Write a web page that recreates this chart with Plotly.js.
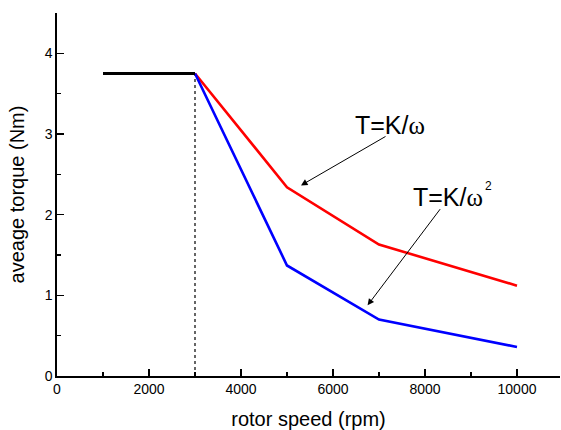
<!DOCTYPE html>
<html>
<head>
<meta charset="utf-8">
<script src="https://cdn.plot.ly/plotly-3.0.1.min.js"></script>
<style>html,body{margin:0;padding:0;background:#fff;}#chart{width:561px;height:430px;}</style>
</head>
<body>
<div id="chart"></div>
<script>
// constant-torque region
const constSpeed = [1000, 3000];
const constTorque = [3.75, 3.75];
// T = K/omega
const speedK1 = [3000, 5000, 7000, 10000];
const torqueK1 = [3.75, 2.34, 1.63, 1.12];
// T = K/omega^2
const speedK2 = [3000, 5000, 7000, 10000];
const torqueK2 = [3.75, 1.37, 0.70, 0.36];
// base-speed marker
const baseSpeed = [3000, 3000];
const baseTorque = [0, 3.75];
const xTicks = [0, 2000, 4000, 6000, 8000, 10000];
const yTicks = [0, 1, 2, 3, 4];

const traces = [
  {x: baseSpeed, y: baseTorque, mode: 'lines', line: {color: '#000', width: 1.2, dash: 'dot'}, hoverinfo: 'skip'},
  {x: speedK1, y: torqueK1, mode: 'lines', line: {color: '#ff0000', width: 2.6}},
  {x: speedK2, y: torqueK2, mode: 'lines', line: {color: '#0000ff', width: 2.6}},
  {x: constSpeed, y: constTorque, mode: 'lines', line: {color: '#000', width: 3}}
];

const fontTxt = {family: '"Liberation Sans", Arial, sans-serif', size: 25, color: '#000'};
const omega = '<span style="font-family:\'Liberation Serif\',serif">ω</span>';
const layout = {
  width: 561, height: 430,
  margin: {l: 57, r: 1, t: 13, b: 54},
  paper_bgcolor: '#fff', plot_bgcolor: '#fff',
  showlegend: false,
  font: {family: '"Liberation Sans", Arial, sans-serif', color: '#000'},
  xaxis: {
    range: [0, 10935], tickvals: xTicks, ticktext: xTicks.map(String),
    ticks: 'inside', ticklen: 7, tickwidth: 1.3, tickcolor: '#000',
    minor: {dtick: 1000, ticks: 'inside', ticklen: 4, tickwidth: 1.3, tickcolor: '#000', showgrid: false},
    showline: true, linecolor: '#000', linewidth: 1.6, showgrid: false, zeroline: false,
    tickfont: {size: 14}, title: {text: 'rotor speed (rpm)', font: {size: 20}, standoff: 16}
  },
  yaxis: {
    range: [0, 4.5], tickvals: yTicks, ticktext: yTicks.map(String),
    ticks: 'inside', ticklen: 7, tickwidth: 1.3, tickcolor: '#000',
    minor: {dtick: 0.5, ticks: 'inside', ticklen: 4, tickwidth: 1.3, tickcolor: '#000', showgrid: false},
    showline: true, linecolor: '#000', linewidth: 1.6, showgrid: false, zeroline: false,
    tickfont: {size: 14}, title: {text: 'aveage torque (Nm)', font: {size: 20}, standoff: 15}
  },
  annotations: [
    {x: 7246, y: 3.107, xref: 'x', yref: 'y', showarrow: false, font: fontTxt,
     text: 'T=K/' + omega},
    {x: 8507, y: 2.214, xref: 'x', yref: 'y', showarrow: false, font: fontTxt,
     text: 'T=K/' + omega},
    {x: 9376, y: 2.35, xref: 'x', yref: 'y', showarrow: false,
     font: {family: '"Liberation Sans", Arial, sans-serif', size: 12, color: '#000'}, text: '2'},
    {x: 5304, y: 2.363, ax: 7174, ay: 2.98, xref: 'x', yref: 'y', axref: 'x', ayref: 'y',
     showarrow: true, arrowhead: 2, arrowsize: 1.3, arrowwidth: 1, arrowcolor: '#000', text: ''},
    {x: 6752, y: 0.876, ax: 8354, ay: 2.087, xref: 'x', yref: 'y', axref: 'x', ayref: 'y',
     showarrow: true, arrowhead: 2, arrowsize: 1.3, arrowwidth: 1, arrowcolor: '#000', text: ''}
  ]
};
Plotly.newPlot('chart', traces, layout, {staticPlot: true, displayModeBar: false});
</script>
</body>
</html>
